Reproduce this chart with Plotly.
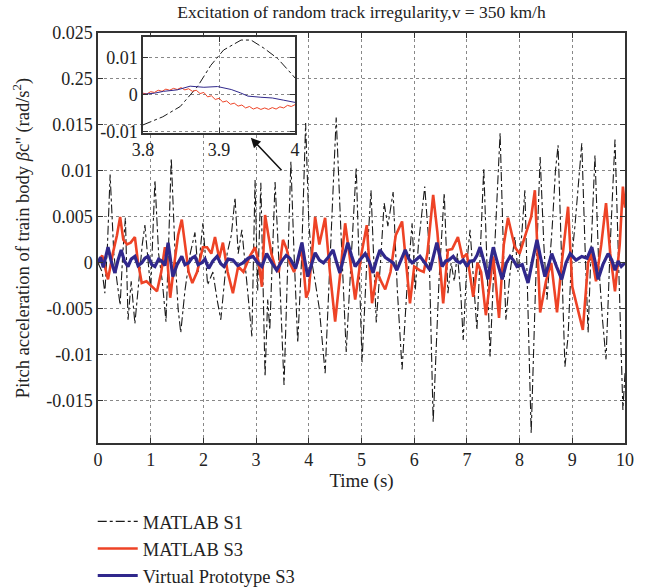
import plotly.graph_objects as go

# ---------------- data ----------------
s1_t = [0, 0.08, 0.13, 0.18, 0.23, 0.27, 0.3, 0.36, 0.42, 0.47, 0.52, 0.57, 0.63, 0.70, 0.74, 0.78, 0.84, 0.89, 0.95,
        1.0, 1.08, 1.15, 1.22, 1.29, 1.34, 1.39, 1.47, 1.52, 1.57, 1.65, 1.75, 1.84, 1.9, 1.99, 2.08, 2.18, 2.26, 2.33,
        2.45, 2.53, 2.60, 2.66, 2.73, 2.82, 2.92, 2.98, 3.03, 3.09, 3.17, 3.22, 3.26, 3.36, 3.45, 3.53, 3.66,
        3.72, 3.79, 3.86, 3.94, 4.0, 4.06, 4.12, 4.2, 4.31, 4.42, 4.52, 4.62, 4.71, 4.80, 4.90, 5.01, 5.10,
        5.18, 5.28, 5.36, 5.43, 5.50, 5.60, 5.68, 5.77, 5.86, 5.96, 6.02, 6.08, 6.20, 6.28, 6.36, 6.47,
        6.57, 6.64, 6.70, 6.76, 6.82, 6.89, 6.93, 7.0, 7.06, 7.12, 7.19, 7.26, 7.32, 7.38, 7.44, 7.53,
        7.63, 7.69, 7.74, 7.82, 7.91, 7.97, 8.04, 8.10, 8.16, 8.22, 8.30, 8.39, 8.46, 8.52, 8.62, 8.68, 8.73, 8.80,
        8.86, 8.92, 8.98, 9.05, 9.12, 9.18, 9.24, 9.30, 9.36, 9.43, 9.50, 9.57, 9.64, 9.72, 9.81, 9.88, 9.96, 10.0]
s1_v = [0, -0.001, -0.0033, 0.002, 0.0096, 0.004, 0.001, -0.002, -0.0046, 0.001, 0.0049, -0.0062, -0.002,
        -0.0066, -0.004, -0.001, 0.002, 0.0041, 0.0, -0.003, 0.0090, 0.001, -0.002, -0.0064, 0.002, 0.0114, 0.0,
        -0.005, -0.0076, -0.003, 0.001, 0.0033, -0.001, 0.0043, -0.0024, -0.001, -0.004, -0.0062, 0.001, 0.003,
        0.0071, 0.001, 0.0036, -0.002, -0.0080, 0.0090, -0.003, 0.0087, -0.0124, -0.004, -0.0073, 0.0088,
        -0.002, -0.0133, 0.0110, 0.001, -0.0087, 0.0, 0.0152, 0.0044, 0.0, -0.002, -0.005, -0.0120, 0.002,
        0.0158, 0.002, -0.0097, 0.0, 0.0104, -0.0108, 0.0, 0.0079, -0.0065, 0.0, 0.0065, 0.004, 0.0077,
        -0.003, -0.0116, -0.003, 0.0043, -0.003, 0.002, 0.0083, 0.002, -0.0173, -0.002, 0.0076, -0.0033,
        0.0, -0.002, 0.001, -0.0040, -0.0084, 0.0, 0.0036, -0.002, -0.0073, 0.002, 0.0103, 0.0, -0.0102,
        0.002, 0.0141, 0.002, -0.0062, -0.001, 0.0028, -0.001, 0.003, 0.0079, -0.005, -0.0185, -0.003,
        0.0115, 0.002, -0.0040, 0.004, 0.010, 0.0128, 0.0, -0.0113, -0.008, 0.0, 0.004, 0.009, 0.0130,
        0.002, -0.0076, 0.002, 0.0117, 0.0, -0.006, -0.0105, 0.002, 0.0134, 0.0, -0.016, -0.012]

s3_t = [0, 0.08, 0.19, 0.28, 0.36, 0.42, 0.48, 0.55, 0.62, 0.70, 0.76, 0.83, 0.92, 1.02, 1.12, 1.2,
        1.27, 1.32, 1.37, 1.45, 1.52, 1.59, 1.66, 1.72, 1.79, 1.88, 1.99, 2.07, 2.15, 2.22, 2.30, 2.37,
        2.46, 2.56, 2.66, 2.76, 2.88, 2.98, 3.05, 3.11, 3.17, 3.22, 3.29, 3.36, 3.43, 3.51, 3.58, 3.64,
        3.72, 3.80, 3.85, 3.9, 3.95, 4.0, 4.05, 4.12, 4.2, 4.31, 4.4, 4.50, 4.6, 4.69, 4.78, 4.88, 5.0,
        5.10, 5.20, 5.3, 5.37, 5.45, 5.55, 5.65, 5.77, 5.85, 5.92, 6.0, 6.1, 6.18, 6.25, 6.36, 6.44,
        6.55, 6.64, 6.72, 6.83, 6.92, 7.0, 7.12, 7.2, 7.27, 7.36, 7.50, 7.61, 7.7, 7.78, 7.91, 8.0,
        8.12, 8.22, 8.29, 8.39, 8.5, 8.6, 8.71, 8.8, 8.92, 9.0, 9.20, 9.3, 9.36, 9.45, 9.55, 9.64,
        9.72, 9.81, 9.9, 9.96, 10.0]
s3_v = [0, 0.0008, -0.0018, 0.001, 0.003, 0.0050, 0.0025, 0.002, 0.0022, 0.0028, 0.0, -0.0022,
        -0.002, -0.0026, -0.0031, -0.001, 0.0017, 0.0, -0.0038, 0.0, 0.003, 0.0047, 0.0014, -0.001,
        -0.0022, -0.001, 0.0017, 0.0017, 0.001, 0.0028, 0.0005, 0.0022, -0.001, -0.0033, -0.0004,
        -0.001, 0.0007, 0.0017, 0.0, -0.0026, 0.0052, 0.0035, 0.001, -0.0004, -0.001, 0.0025, 0.0015,
        0.0, -0.001, 0.0003, 0.0017, -0.0005, -0.0038, -0.003, 0.0, 0.0050, 0.002, 0.0049, -0.001,
        -0.0064, -0.001, 0.0043, 0.0005, -0.0040, 0.001, 0.0041, -0.0044, -0.001, -0.002, -0.0029,
        -0.001, 0.003, 0.0045, 0.0, -0.0044, -0.0004, -0.0008, -0.001, 0.001, 0.0074, 0.0033, -0.0044,
        0.0014, 0.0015, 0.0028, 0.0005, 0.001, -0.0037, 0.0, -0.001, -0.0057, 0.0007, -0.0060, 0.002,
        0.0049, 0.0017, 0.001, 0.0032, 0.005, 0.0079, -0.0054, -0.002, 0.0, -0.0054, 0.0, 0.0061,
        -0.0026, -0.0073, 0.0, 0.001, -0.002, 0.002, 0.0065, 0.001, -0.0031, 0.002, 0.0083, 0.006]

vp_t = [0, 0.05, 0.1, 0.19, 0.25, 0.32, 0.38, 0.44, 0.5, 0.57, 0.63, 0.70, 0.76, 0.83, 0.89, 0.95,
        1.02, 1.08, 1.15, 1.21, 1.27, 1.33, 1.42, 1.5, 1.59, 1.65, 1.72, 1.78, 1.84, 1.9, 1.97, 2.03,
        2.1, 2.18, 2.26, 2.33, 2.39, 2.47, 2.56, 2.65, 2.75, 2.85, 2.94, 3.03, 3.11, 3.2, 3.3, 3.39,
        3.5, 3.57, 3.64, 3.7, 3.75, 3.81, 3.87, 3.92, 3.98, 4.05, 4.12, 4.2, 4.28, 4.37, 4.46, 4.52,
        4.59, 4.66, 4.74, 4.81, 4.88, 4.97, 5.07, 5.15, 5.22, 5.28, 5.35, 5.45, 5.54, 5.6, 5.67, 5.75,
        5.83, 5.9, 5.96, 6.03, 6.11, 6.2, 6.30, 6.37, 6.43, 6.53, 6.6, 6.66, 6.74, 6.8, 6.87, 6.93,
        7.0, 7.06, 7.13, 7.19, 7.25, 7.33, 7.40, 7.45, 7.50, 7.58, 7.67, 7.75, 7.82, 7.88, 7.95, 8.05,
        8.16, 8.25, 8.33, 8.4, 8.48, 8.55, 8.61, 8.7, 8.80, 8.88, 8.96, 9.07, 9.18, 9.28, 9.37, 9.43,
        9.49, 9.58, 9.68, 9.75, 9.81, 9.87, 9.93, 10.0]
vp_v = [0, 0.0006, -0.0005, 0.0017, 0.0002, -0.0011, 0.0003, 0.0014, 0.0002, -0.0004, 0.0004,
        0.0007, -0.0003, 0.0, 0.0005, 0.0007, -0.0002, -0.0004, 0.0004, 0.0002, -0.0003, 0.0022,
        -0.0015, -0.0002, 0.0007, -0.0002, 0.0, 0.0005, 0.0007, -0.0002, 0.0, 0.0004, -0.0006,
        0.0002, 0.0007, -0.0001, -0.0004, 0.0004, 0.0003, -0.0003, 0.0, 0.0005, 0.0007, 0.0,
        -0.0004, 0.001, 0.0, -0.0008, 0.0003, 0.0008, 0.0005, -0.0002, -0.0006, 0.0008, 0.0022,
        0.0004, -0.0015, -0.0002, 0.0011, 0.0003, 0.0, 0.0006, 0.0014, 0.0002, -0.0011, 0.0005,
        0.0022, 0.0008, -0.0004, 0.0003, 0.001, 0.0001, -0.0011, 0.0002, 0.0014, 0.0006, 0.0003,
        0.0, -0.0008, 0.0004, 0.0014, 0.0004, 0.0, 0.0003, 0.0007, 0.0, -0.0008, 0.0008, 0.0022,
        -0.0004, 0.0002, 0.0003, 0.0007, 0.0002, 0.0, 0.0003, -0.0004, 0.0002, 0.0002, 0.0008,
        0.0017, 0.0, -0.0018, 0.0002, 0.0017, 0.0, -0.0018, 0.0, 0.0007, 0.0003, -0.0004, -0.0002,
        -0.0022, 0.0004, 0.0025, 0.0005, -0.0015, -0.0002, 0.001, -0.0004, -0.0018, 0.0, 0.001,
        0.0003, 0.0007, 0.0005, 0.0017, 0.0002, -0.0018, -0.0002, 0.001, 0.0003, -0.0008, 0.0002,
        -0.0004, 0.0]

# inset (3.8 s - 4.0 s) readings
in_s1_t = [3.8, 3.826, 3.849, 3.872, 3.889, 3.906, 3.929, 3.942, 3.959, 3.977, 3.995, 4.0]
in_s1_v = [-0.0083, -0.0061, -0.0033, 0.0022, 0.0078, 0.0120, 0.0147, 0.0147, 0.0125, 0.0097,
           0.0056, 0.0044]
in_s3_t = [3.80, 3.805, 3.81, 3.815, 3.82, 3.825, 3.83, 3.835, 3.84, 3.845, 3.85, 3.855, 3.86,
           3.865, 3.87, 3.875, 3.88, 3.885, 3.89, 3.895, 3.90, 3.905, 3.91, 3.915, 3.92, 3.925,
           3.93, 3.935, 3.94, 3.945, 3.95, 3.955, 3.96, 3.965, 3.97, 3.975, 3.98, 3.985, 3.99,
           3.995, 4.00]
in_s3_v = [0.0003, 0.0001, 0.0007, 0.0005, 0.0011, 0.0008, 0.0014, 0.0011, 0.0016, 0.0013, 0.0018,
           0.0012, 0.0015, 0.0008, 0.0011, 0.0002, 0.0005, -0.0007, -0.0004, -0.0014, -0.0011,
           -0.0021, -0.0018, -0.0027, -0.0024, -0.0032, -0.0029, -0.0037, -0.0033, -0.0040, -0.0036,
           -0.0041, -0.0037, -0.0041, -0.0036, -0.0040, -0.0034, -0.0037, -0.0030, -0.0033, -0.0028]
in_vp_t = [3.80, 3.815, 3.827, 3.845, 3.862, 3.88, 3.898, 3.916, 3.928, 3.938, 3.955, 3.97, 3.985,
           4.00]
in_vp_v = [0.0, 0.0003, 0.0008, 0.0012, 0.0022, 0.0019, 0.0021, 0.0013, 0.0004, -0.0005, -0.0008,
           -0.0010, -0.0016, -0.0022]

y_ticks = [-0.015, -0.01, -0.005, 0, 0.005, 0.01, 0.015, 0.02, 0.025]
y_labels = ["-0.015", "-0.01", "-0.005", "0", "0.005", "0.01", "0.015", "0.25", "0.025"]
x_ticks = [0, 1, 2, 3, 4, 5, 6, 7, 8, 9, 10]
x_labels = [str(v) for v in x_ticks]
in_x_ticks = [3.8, 3.9, 4.0]
in_x_labels = ["3.8", "3.9", "4"]
in_y_ticks = [-0.01, 0, 0.01]
in_y_labels = ["-0.01", "0", "0.01"]

names = ["MATLAB S1", "MATLAB S3", "Virtual Prototype S3"]
BLACK = "#1a1a1a"
RED = "#ee4326"
BLUE = "#30288c"
FONT = "Liberation Serif"

fig = go.Figure()
fig.add_trace(go.Scatter(x=s1_t, y=s1_v, name=names[0], mode="lines",
                         line=dict(color=BLACK, width=1.1, dash="dashdot")))
fig.add_trace(go.Scatter(x=s3_t, y=s3_v, name=names[1], mode="lines",
                         line=dict(color=RED, width=2.6)))
fig.add_trace(go.Scatter(x=vp_t, y=vp_v, name=names[2], mode="lines",
                         line=dict(color=BLUE, width=3.2)))

fig.add_trace(go.Scatter(x=in_s1_t, y=in_s1_v, mode="lines", showlegend=False,
                         line=dict(color=BLACK, width=1, dash="dashdot"), xaxis="x2", yaxis="y2"))
fig.add_trace(go.Scatter(x=in_s3_t, y=in_s3_v, mode="lines", showlegend=False,
                         line=dict(color=RED, width=1), xaxis="x2", yaxis="y2"))
fig.add_trace(go.Scatter(x=in_vp_t, y=in_vp_v, mode="lines", showlegend=False,
                         line=dict(color=BLUE, width=1), xaxis="x2", yaxis="y2"))

axis_common = dict(showline=True, linecolor="#333333", linewidth=1.5, mirror="ticks",
                   ticks="inside", ticklen=5, tickcolor="#333333", showgrid=True,
                   gridcolor="#888888", griddash="dot", gridwidth=1, zeroline=False,
                   automargin=False)

fig.update_layout(
    width=645, height=587,
    margin=dict(l=98, r=20, t=33, b=144, autoexpand=False),
    paper_bgcolor="white", plot_bgcolor="white",
    font=dict(family=FONT, size=18, color="#222222"),
    title=dict(text="Excitation of random track irregularity,v = 350 km/h",
               x=0.5, xref="paper", y=1 - 12 / 587, yref="container", yanchor="middle",
               font=dict(family=FONT, size=17.5, color="#222222")),
    xaxis=dict(range=[0, 10], tickvals=x_ticks, ticktext=x_labels, tickfont=dict(size=18),
               title=dict(text="Time (s)", standoff=2, font=dict(size=19)), **axis_common),
    yaxis=dict(range=[-0.0196, 0.025], tickvals=y_ticks, ticktext=y_labels, tickfont=dict(size=18),
               title=dict(text="Pitch acceleration of train body <i>β</i>c'' (rad/s<sup>2</sup>)",
                          standoff=12, font=dict(size=18.5)), **axis_common),
    xaxis2=dict(domain=[0.0854, 0.374], anchor="y2", range=[3.8, 4.0], tickvals=in_x_ticks,
                ticktext=in_x_labels, tickfont=dict(size=18), **axis_common),
    yaxis2=dict(domain=[0.756, 0.990], anchor="x2", range=[-0.0105, 0.0155],
                tickvals=in_y_ticks, ticktext=in_y_labels, tickfont=dict(size=18), **axis_common),
    legend=dict(x=-0.01, y=-0.146, xanchor="left", yanchor="top", bgcolor="rgba(0,0,0,0)",
                font=dict(family=FONT, size=18.5), itemwidth=40, tracegroupgap=0),
    showlegend=True,
)

fig.add_annotation(x=2.90, y=0.0136, ax=3.51, ay=0.0099, xref="x", yref="y", axref="x", ayref="y",
                   text="", showarrow=True, arrowhead=2, arrowsize=1.3, arrowwidth=1.5,
                   arrowcolor="#111111")

fig.write_html("out.html", post_script="document.body.style.margin='0';",
               config={"displayModeBar": False})
